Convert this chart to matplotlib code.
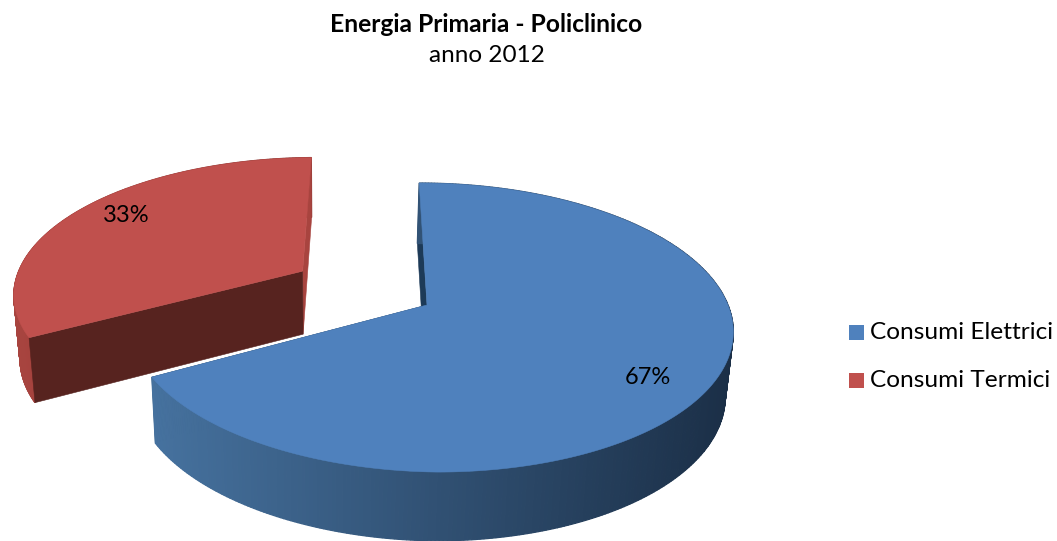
import numpy as np
import matplotlib
matplotlib.use("Agg")
import matplotlib.pyplot as plt
from matplotlib.patches import Polygon, Rectangle

title_main = "Energia Primaria - Policlinico"
title_sub = "anno 2012"
categories = ["Consumi Elettrici", "Consumi Termici"]
values = [67, 33]
explode = [0.0, 0.49]
labels = ["67%", "33%"]
top_colors = ["#4F81BD", "#C0504D"]
wall_colors = ["#1D3A57", "#57231F"]
end_colors = ["#1D3A57", "#A8443F"]
side_left = ["#46729F", "#A8443F"]
side_right = ["#1B2F47", "#8A3834"]
left_squeeze = [0.02, 0.02]

START = 0.0
CX, CY, RX, RY, K, SHEAR = 427.0, 305.0, 301.0, 141.0, 0.156, 0.03

plt.rcParams["font.family"] = ["Lato", "DejaVu Sans"]
fig = plt.figure(figsize=(10.57, 5.41), dpi=100)
ax = fig.add_axes([0, 0, 1, 1])
ax.set_xlim(0, 1057)
ax.set_ylim(541, 0)
ax.axis("off")


def project(u, v):
    s = 1 / (1 + K * v)
    return CX + RX * (u - SHEAR * v) * s, CY - RY * v * s, s


def lower(u, v):
    x, y, s = project(u, v)
    return x - (x - CX) * 0.02 - 2, y + 38 + 26 * s


def upper(u, v):
    return project(u, v)[:2]


def lerp_color(a, b, t):
    ca, cb = np.array(matplotlib.colors.to_rgb(a)), np.array(matplotlib.colors.to_rgb(b))
    return tuple(ca + (cb - ca) * np.clip(t, 0, 1))


def draw_slice(i, a0, a1, z):
    mid = np.radians((a0 + a1) / 2)
    du, dv = explode[i] * np.sin(mid), explode[i] * np.cos(mid)
    th = np.radians(np.linspace(a0, a1, 360))
    r = 1 - left_squeeze[i] * np.clip(-np.sin(th), 0, 1)
    us, vs = du + r * np.sin(th), dv + r * np.cos(th)
    rim_z = z + 1 if i == 0 else z
    wall_z = z if i == 0 else z + 1
    # outer rim
    for j in range(len(th) - 1):
        p = [upper(us[j], vs[j]), upper(us[j + 1], vs[j + 1]),
             lower(us[j + 1], vs[j + 1]), lower(us[j], vs[j])]
        t = (p[0][0] - 150) / 583 if i == 0 else (p[0][0] - 10) / 300
        col = lerp_color(side_left[i], side_right[i], t)
        ax.add_patch(Polygon(p, closed=True, fc=col, ec=col, lw=0.9, zorder=rim_z))
    # radial walls: the one at the slice start and the one at its end
    for ang_u, ang_v, col, dz in [(us[-1], vs[-1], end_colors[i], 0),
                                  (us[0], vs[0], wall_colors[i], 0.5)]:
        p = [upper(ang_u, ang_v), upper(du, dv), lower(du, dv), lower(ang_u, ang_v)]
        ax.add_patch(Polygon(p, closed=True, fc=col, ec=col, lw=0.4, zorder=wall_z + dz))
    # top face
    pts = [upper(du, dv)] + [upper(a, b) for a, b in zip(us, vs)]
    ax.add_patch(Polygon(pts, closed=True, fc=top_colors[i], ec=top_colors[i], lw=0.4, zorder=z + 2))


angles = START + np.cumsum([0] + values) / sum(values) * 360
draw_slice(1, angles[1], angles[2], 1)
draw_slice(0, angles[0], angles[1], 5)

ax.text(648, 378, labels[0], ha="center", va="center", fontsize=17, color="black", zorder=10)
ax.text(126, 215, labels[1], ha="center", va="center", fontsize=17, color="black", zorder=10)

ax.text(486.5, 25, title_main, ha="center", va="center", fontsize=17.75, fontweight="bold", color="black")
ax.text(486.5, 56, title_sub, ha="center", va="center", fontsize=17.5, color="black")

for name, col, y in zip(categories, top_colors, [332.5, 380.5]):
    ax.add_patch(Rectangle((849, y - 7.5), 15, 15, fc=col, ec="none"))
    ax.text(870, y, name, ha="left", va="center", fontsize=17.6, color="black")

fig.savefig("out.png", dpi=100, facecolor="white")
